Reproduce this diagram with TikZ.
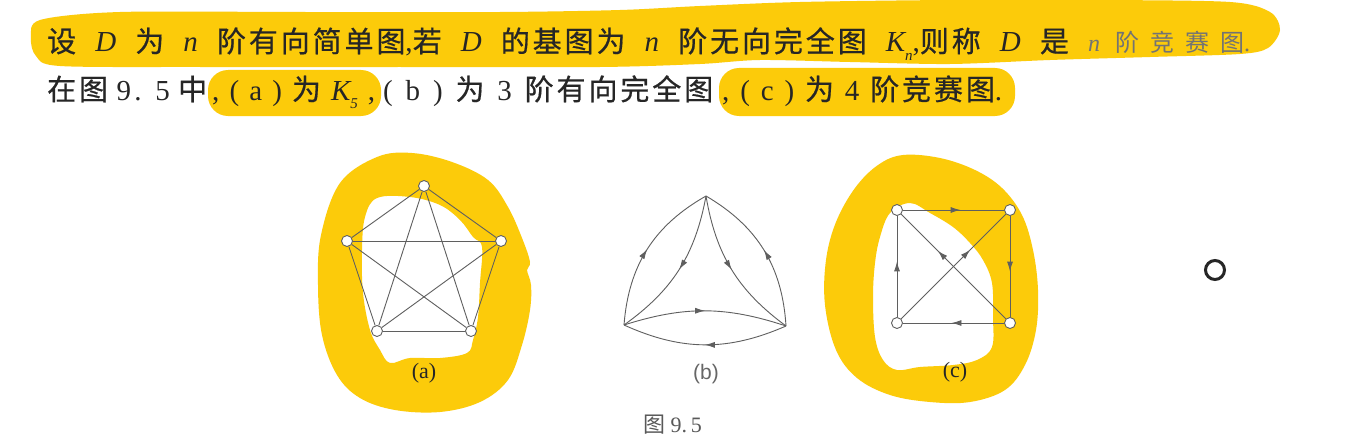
\documentclass[tikz,border=0pt]{standalone}
\usepackage{fontspec}
\setmainfont{Liberation Serif}
\setsansfont{Liberation Sans}
\newfontfamily\cjk[LetterSpace=10,FakeBold=0.6]{Noto Sans CJK SC}
\newfontfamily\cjkw[LetterSpace=45]{Noto Sans CJK SC}
\newfontfamily\lat[LetterSpace=12]{Liberation Serif}
\newfontfamily\plaincjk{Noto Sans CJK SC}
\usetikzlibrary{arrows.meta,decorations.markings}
\definecolor{hl}{RGB}{252,203,10}
\definecolor{ink}{RGB}{38,38,38}
\definecolor{edgec}{RGB}{95,95,95}
\newcommand\zh[1]{{\cjk #1}}
\newcommand\zw[1]{{\cjkw #1}}
\newcommand\vi[1]{{\itshape #1}}
\newcommand\subs[1]{\raisebox{-0.28em}{\fontsize{15}{15}\selectfont\itshape #1}}
\begin{document}
\begin{tikzpicture}[x=1pt,y=-1pt,
  vtx/.style={circle,draw=edgec,fill=white,line width=0.9pt,minimum size=11pt,inner sep=0pt},
  gedge/.style={draw=edgec,line width=0.9pt},
  marr/.style={postaction={decorate},decoration={markings,mark=at position #1 with {\arrow[color=edgec]{Latex[length=10pt,width=6pt]}}}},
  marr/.default=0.5,
  txt/.style={anchor=base west,inner sep=0pt,text=ink,font=\lat\fontsize{29}{29}\selectfont},
  lab/.style={inner sep=0pt,text=ink,font=\fontsize{22}{22}\selectfont}]
\useasboundingbox (0,0) rectangle (1368,436);
\fill[white] (0,0) rectangle (1368,436);
% highlights
\fill[hl] plot[smooth cycle,tension=0.5] coordinates {(40,20) (120,12) (300,12) (500,12) (620,10) (700,6) (800,2) (950,0) (1100,0) (1230,2) (1270,12) (1280,30) (1268,48) (1240,54) (1150,57) (1050,60) (950,64) (850,62) (760,60) (700,64) (600,67) (400,67) (200,67) (60,66) (36,56) (31,38)};
\fill[hl,rounded corners=20pt] (208,70) rectangle (381,116);
\fill[hl,rounded corners=20pt] (719,68) rectangle (1015,116);
\fill[hl,even odd rule] plot[smooth cycle,tension=0.6] coordinates {(340,183) (377,157) (412,153) (452,162) (488,180) (508,207) (522,238) (530,262) (527,270) (531,285) (530,310) (522,345) (508,380) (480,402) (440,412) (395,410) (360,398) (337,375) (322,335) (318,285) (321,235)}
  plot[smooth cycle,tension=0.6] coordinates {(377,198) (410,197) (440,205) (460,220) (473,237) (482,247) (480,283) (478,317) (473,340) (467,353) (440,358) (410,358) (390,363) (380,350) (370,330) (363,293) (362,250) (365,217)};
\fill[hl,even odd rule] plot[smooth cycle,tension=0.6] coordinates {(903,155) (940,158) (975,170) (1002,188) (1022,215) (1033,250) (1038,290) (1036,330) (1025,365) (1005,390) (970,402) (930,402) (890,395) (857,378) (836,350) (825,305) (826,260) (836,222) (855,188) (878,165)}
  plot[smooth cycle,tension=0.6] coordinates {(910,203) (930,213) (953,227) (970,243) (983,260) (992,283) (993,317) (992,347) (977,360) (953,365) (920,367) (897,370) (883,360) (875,337) (873,297) (875,263) (880,237) (890,213)};
% text
\node[txt] (l1) at (47,52) {\makebox[1203pt][s]{\zh{设} \vi{D} \zh{为} \vi{n} \zh{阶有向简单图},\zh{若} \vi{D} \zh{的基图为} \vi{n} \zh{阶无向完全图} \vi{K}\subs{n},\zh{则称} \vi{D} \zh{是} {\color{black!55}\fontsize{24}{24}\selectfont\vi{n} \zw{阶竞赛图}.}}};
\node[txt] (l2a) at (47,100) {\makebox[160pt][s]{\zh{在图} 9. 5 \zh{中}}};
\node[txt] (l2b) at (212,100) {\makebox[163pt][s]{, ( a ) \zh{为} \vi{K}\subs{5} ,}};
\node[txt] (l2c) at (383,100) {\makebox[330pt][s]{( b ) \zh{为} 3 \zh{阶有向完全图}}};
\node[txt] (l2d) at (722,100) {\makebox[280pt][s]{, ( c ) \zh{为} 4 \zh{阶竞赛图}.}};
% graph (a)
\node[vtx] (a1) at (424,186) {};
\node[vtx] (a2) at (501,241) {};
\node[vtx] (a3) at (471,331) {};
\node[vtx] (a4) at (377,331) {};
\node[vtx] (a5) at (347,241) {};
\foreach \u/\v in {a1/a2,a1/a3,a1/a4,a1/a5,a2/a3,a2/a4,a2/a5,a3/a4,a3/a5,a4/a5}
  \draw[gedge] (\u) -- (\v);
\node[lab] (la) at (424,373) {(a)};
% graph (b)
\coordinate (bT) at (706,196);
\coordinate (bL) at (624,325);
\coordinate (bR) at (786,326);
\draw[gedge,marr] (bL) to[bend left=28] (bT);
\draw[gedge,marr] (bT) to[bend left=22] (bL);
\draw[gedge,marr] (bR) to[bend right=28] (bT);
\draw[gedge,marr] (bT) to[bend right=22] (bR);
\draw[gedge,marr] (bL) to[bend left=18] (bR);
\draw[gedge,marr] (bR) to[bend left=24] (bL);
\node[lab,text=black!60,font=\sffamily\fontsize{21}{21}\selectfont] (lb) at (706,374) {(b)};
% graph (c)
\node[vtx] (c1) at (897,210) {};
\node[vtx] (c2) at (1010,210) {};
\node[vtx] (c3) at (1010,323) {};
\node[vtx] (c4) at (897,323) {};
\draw[gedge,marr=0.57] (c1) -- (c2);
\draw[gedge,marr=0.55] (c2) -- (c3);
\draw[gedge,marr=0.52] (c3) -- (c4);
\draw[gedge,marr=0.55] (c4) -- (c1);
\draw[gedge,marr=0.65] (c3) -- (c1);
\draw[gedge,marr=0.66] (c4) -- (c2);
\node[lab] (lc) at (955,372) {(c)};
% caption and stray circle
\node[anchor=base west,inner sep=0pt,text=black!65,font=\fontsize{22}{22}\selectfont] (cap) at (643,432) {\plaincjk 图\rmfamily\ 9.\,5};
\node[circle,draw=black!85,line width=3pt,minimum size=19pt,inner sep=0pt] (dot) at (1215,270) {};
\end{tikzpicture}
\end{document}
